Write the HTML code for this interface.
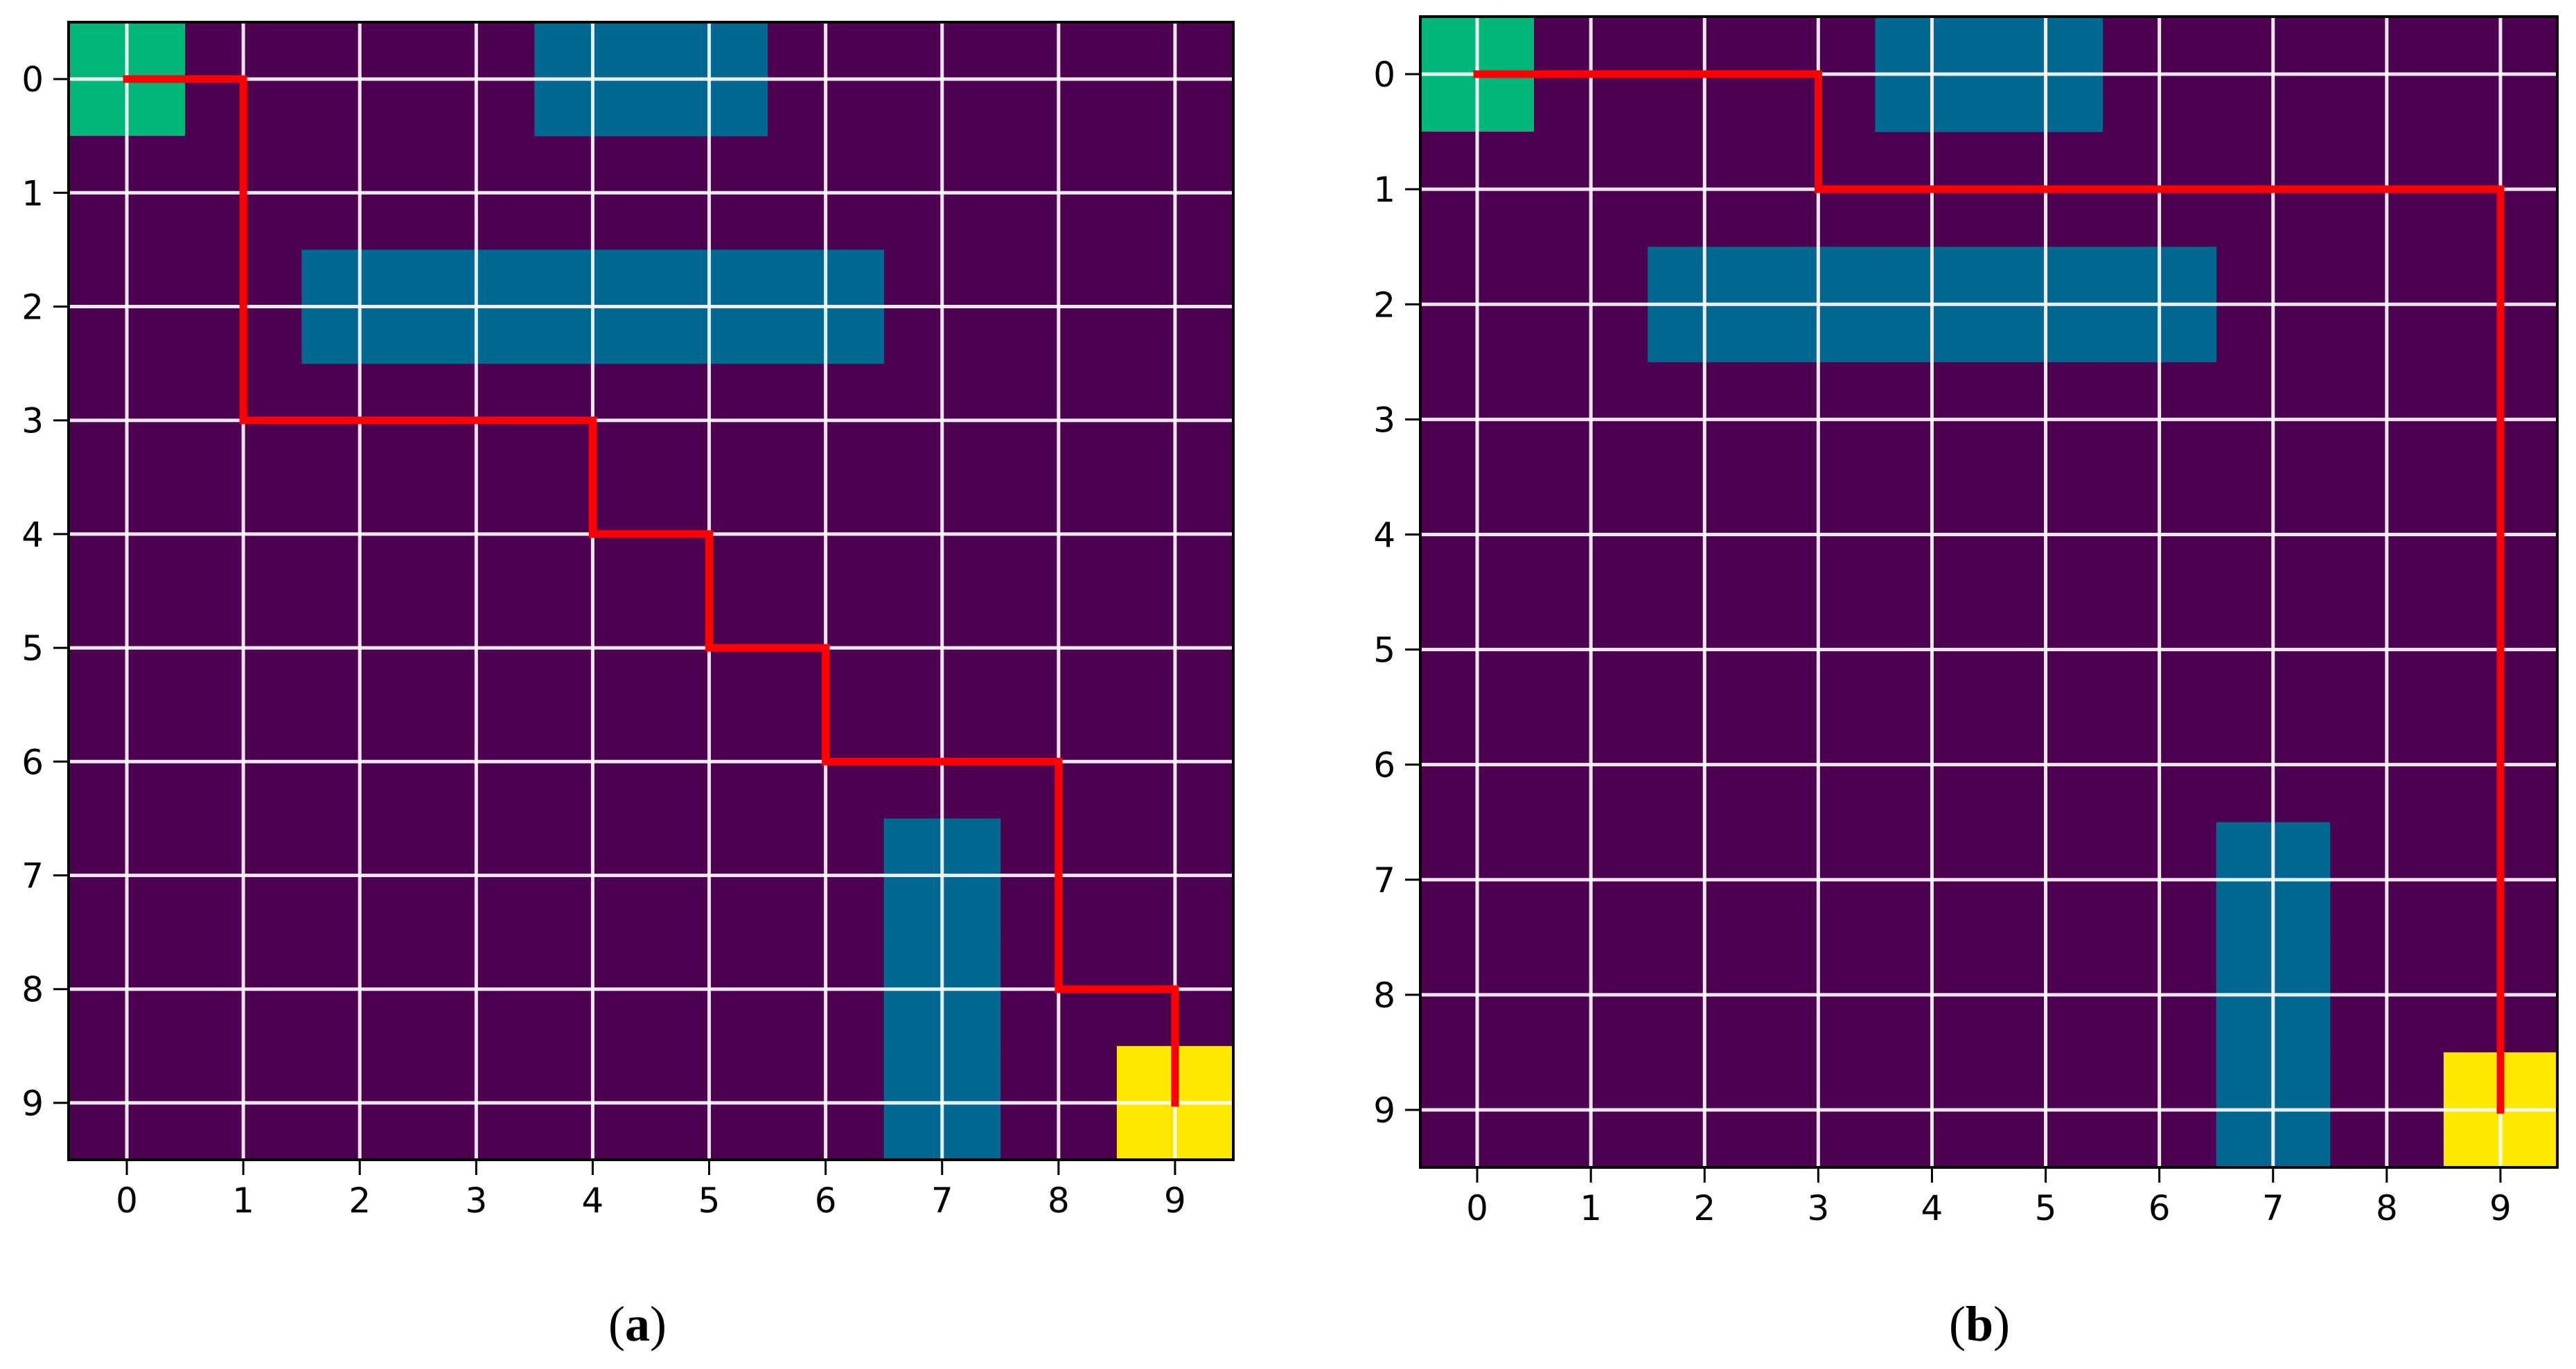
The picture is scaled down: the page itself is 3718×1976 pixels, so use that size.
<!DOCTYPE html>
<html><head><meta charset="utf-8"><style>
html,body{margin:0;padding:0;background:#fff;}
svg{display:block;}
</style></head><body>
<svg id="fig" width="3718" height="1976" viewBox="0 0 3718 1976" xmlns="http://www.w3.org/2000/svg"></svg>
<script>
// data
const ticks = [0,1,2,3,4,5,6,7,8,9];
const obstacleCells = [[4,0],[5,0],[2,2],[3,2],[4,2],[5,2],[6,2],[7,7],[7,8],[7,9]];
const startCell = [0,0];
const goalCell = [9,9];
const pathAX = [0,1,1,4,4,5,5,6,6,8,8,9,9];
const pathAY = [0,0,3,3,4,4,5,5,6,6,8,8,9];
const pathBX = [0,3,3,9,9];
const pathBY = [0,0,1,1,9];
const panelLabels = ['(a)','(b)'];

const NS = 'http://www.w3.org/2000/svg';
const svg = document.getElementById('fig');
function mk(tag, attrs, parent){
  const e = document.createElementNS(NS, tag);
  for (const k in attrs) e.setAttribute(k, attrs[k]);
  (parent||svg).appendChild(e);
  return e;
}
const panels = [
  {x0:99, x1:1780, y0:32, y1:1674, px:pathAX, py:pathAY, lx:920},
  {x0:2050, x1:3691, y0:24, y1:1685, px:pathBX, py:pathBY, lx:2857}
];
panels.forEach((p, pi) => {
  const g = mk('g', {});
  
  
  const cw = (p.x1 - p.x0) / 10, ch = (p.y1 - p.y0) / 10;
  const X = v => p.x0 + (v + 0.5) * cw;
  const Y = v => p.y0 + (v + 0.5) * ch;
  const bg = mk('rect', {x:p.x0, y:p.y0, width:p.x1-p.x0, height:p.y1-p.y0, fill:'#4d0050'}, g);
  
  
  obstacleCells.forEach(c => {
    const r = mk('rect', {x:X(c[0]-0.5), y:Y(c[1]-0.5), width:cw+0.5, height:ch+0.5, fill:'#006790'}, g);
    
    
  });
  const s = mk('rect', {x:X(startCell[0]-0.5), y:Y(startCell[1]-0.5), width:cw, height:ch, fill:'#00b679'}, g);
  
  
  const gl = mk('rect', {x:X(goalCell[0]-0.5), y:Y(goalCell[1]-0.5), width:cw, height:ch, fill:'#fde800'}, g);
  
  
  ticks.forEach(t => {
    const v = mk('line', {x1:X(t), x2:X(t), y1:p.y0, y2:p.y1, stroke:'#fff', 'stroke-width':5, 'stroke-opacity':0.9}, g);
    
    
    const h = mk('line', {x1:p.x0, x2:p.x1, y1:Y(t), y2:Y(t), stroke:'#fff', 'stroke-width':5, 'stroke-opacity':0.9}, g);
    
    
    mk('line', {x1:X(t), x2:X(t), y1:p.y1, y2:p.y1+22, stroke:'#000', 'stroke-width':3}, g);
    mk('line', {x1:p.x0-22, x2:p.x0, y1:Y(t), y2:Y(t), stroke:'#000', 'stroke-width':3}, g);
    const xt = mk('text', {x:X(t), y:p.y1+76, 'font-size':50, 'text-anchor':'middle', 'font-family':'DejaVu Sans, sans-serif', fill:'#000'}, g);
    xt.textContent = t;
    
    
    const yt = mk('text', {x:p.x0-36, y:Y(t)+18, 'font-size':50, 'text-anchor':'end', 'font-family':'DejaVu Sans, sans-serif', fill:'#000'}, g);
    yt.textContent = t;
    
    
  });
  const pts = p.px.map((v, i) => X(v) + ',' + Y(p.py[i])).join(' ');
  const pl = mk('polyline', {points:pts, fill:'none', stroke:'#ff0000', 'stroke-width':11, 'stroke-linejoin':'miter', 'stroke-linecap':'square'}, g);
  
  
  const fr = mk('rect', {x:p.x0, y:p.y0, width:p.x1-p.x0, height:p.y1-p.y0, fill:'none', stroke:'#000', 'stroke-width':4}, g);
  
  
  const lab = mk('text', {x:p.lx, y:1935, 'font-size':72, 'text-anchor':'middle', 'font-family':'Liberation Serif, serif', fill:'#000'}, g);
  lab.innerHTML = panelLabels[pi].replace(/([a-z])/, '<tspan font-weight="bold">$1</tspan>');
  
  
});
</script>
</body></html>
